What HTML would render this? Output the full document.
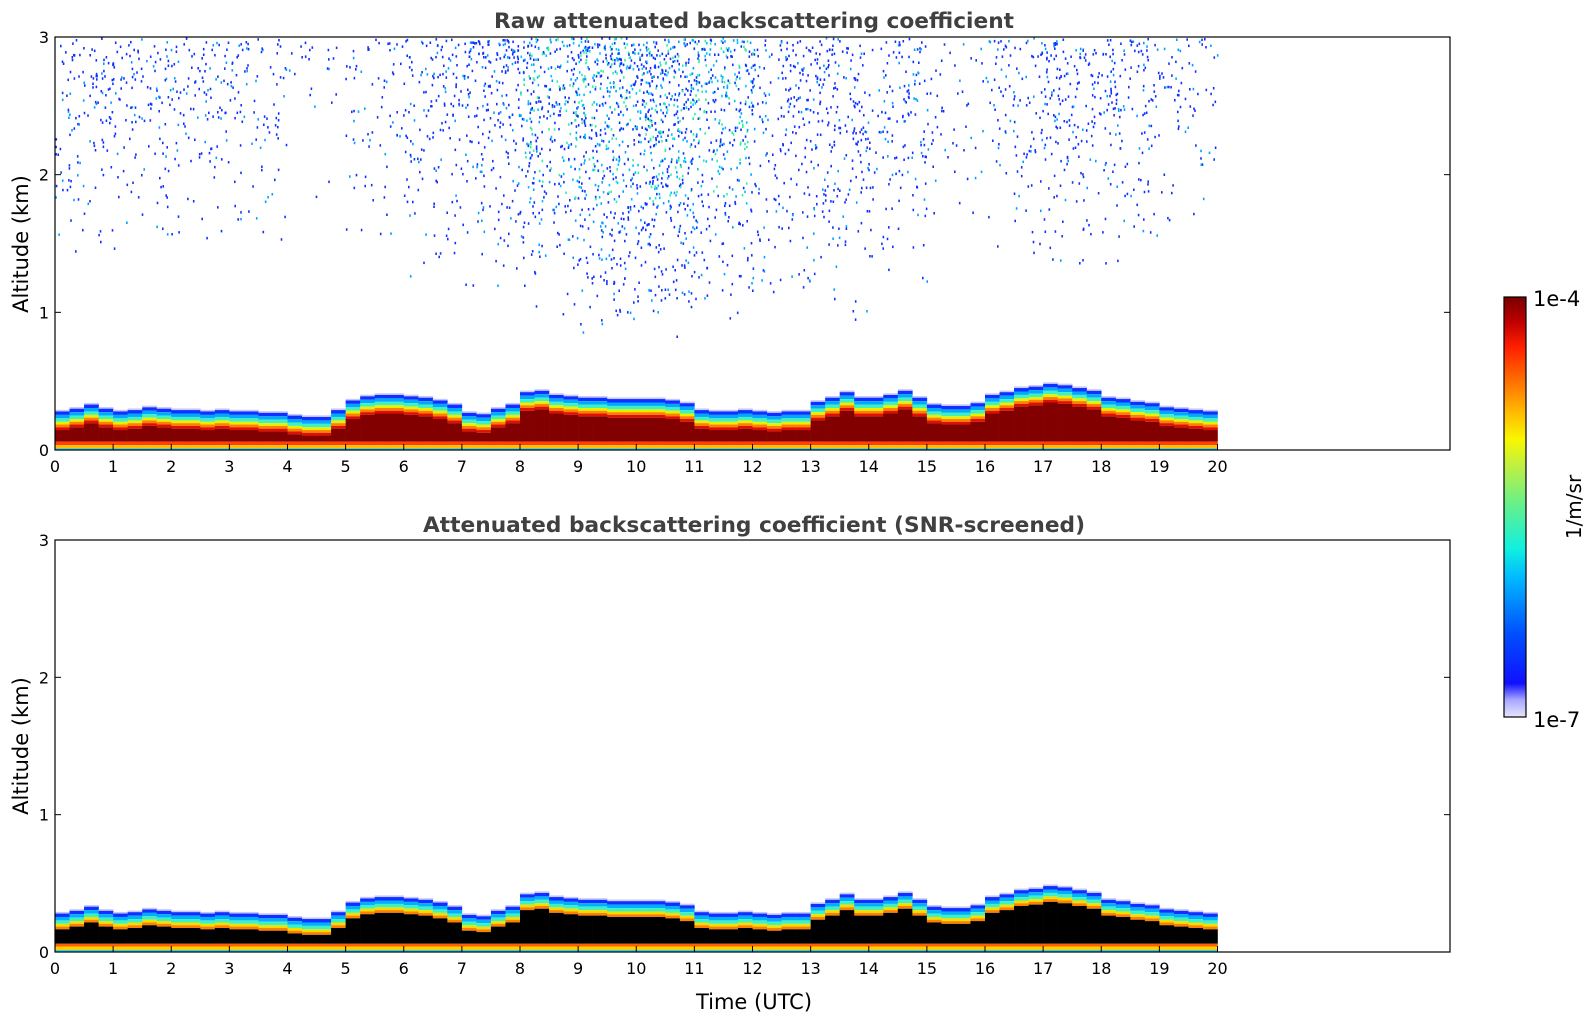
<!DOCTYPE html>
<html><head><meta charset="utf-8">
<style>
body{margin:0;background:#fff;width:1595px;height:1020px;overflow:hidden}
text{font-family:"DejaVu Sans","Liberation Sans",sans-serif}
</style></head>
<body>
<svg id="fig" width="1595" height="1020" xmlns="http://www.w3.org/2000/svg">
<defs>
<linearGradient id="cbgrad" x1="0" y1="1" x2="0" y2="0">
<stop offset="0" stop-color="#e6e6fa"/><stop offset="0.04" stop-color="#a8a8ff"/><stop offset="0.08" stop-color="#1010ff"/>
<stop offset="0.2" stop-color="#0050ff"/><stop offset="0.33" stop-color="#00b8ff"/><stop offset="0.4" stop-color="#10f0e0"/>
<stop offset="0.5" stop-color="#60f090"/><stop offset="0.6" stop-color="#c0f040"/><stop offset="0.66" stop-color="#f8f800"/>
<stop offset="0.72" stop-color="#ffc000"/><stop offset="0.8" stop-color="#ff7000"/><stop offset="0.88" stop-color="#ff2000"/>
<stop offset="0.94" stop-color="#c00000"/><stop offset="1" stop-color="#780000"/>
</linearGradient>
</defs>
<g id="p1"></g>
<g id="p2"></g>
<text x="754" y="28" text-anchor="middle" font-size="21" font-weight="bold" fill="#404040" textLength="520" lengthAdjust="spacingAndGlyphs">Raw attenuated backscattering coefficient</text>
<text x="754" y="532" text-anchor="middle" font-size="21" font-weight="bold" fill="#404040" textLength="662" lengthAdjust="spacingAndGlyphs">Attenuated backscattering coefficient (SNR-screened)</text>
<text x="754" y="1009" text-anchor="middle" font-size="21" fill="#000">Time (UTC)</text>
<text transform="translate(28,244) rotate(-90)" text-anchor="middle" font-size="21">Altitude (km)</text>
<text transform="translate(28,746) rotate(-90)" text-anchor="middle" font-size="21">Altitude (km)</text>
<g>
<rect x="1504" y="297" width="22" height="420" fill="url(#cbgrad)" stroke="#000" stroke-width="1.2"/>
<text x="1533" y="306" font-size="21">1e-4</text>
<text x="1533" y="727" font-size="21">1e-7</text>
<text transform="translate(1581,507) rotate(-90)" text-anchor="middle" font-size="20">1/m/sr</text>
</g>
</svg>
<script>
const hours=[0,1,2,3,4,5,6,7,8,9,10,11,12,13,14,15,16,17,18,19,20];
const altTicks=[0,1,2,3];
// boundary-layer top (km) every 0.25 h from 0 to 19.75
const blTop=[0.28,0.3,0.33,0.3,0.28,0.29,0.31,0.3,0.29,0.29,0.28,0.29,0.28,0.28,0.27,0.27,0.25,0.24,0.24,0.29,
0.36,0.39,0.4,0.4,0.39,0.38,0.36,0.33,0.27,0.26,0.3,0.33,0.42,0.43,0.4,0.39,0.38,0.38,0.37,0.37,
0.37,0.37,0.36,0.34,0.29,0.28,0.28,0.29,0.28,0.27,0.28,0.28,0.35,0.38,0.42,0.38,0.38,0.4,0.43,0.38,
0.33,0.32,0.32,0.34,0.4,0.42,0.45,0.46,0.48,0.47,0.45,0.43,0.38,0.37,0.35,0.34,0.31,0.3,0.29,0.28];
// speckle counts per hour in upper troposphere (raw panel)
const speckleCount=[130,120,110,90,25,70,150,220,330,460,500,330,190,210,150,50,110,170,150,70];
const speckleMinAlt=[1.3,1.4,1.4,1.4,1.8,1.4,1.2,1.1,0.9,0.8,0.8,0.9,1.0,0.9,1.1,1.5,1.4,1.2,1.3,1.6];

const X0=55,X1=1450,HMAX=24;
function xs(h){return X0+(X1-X0)*h/HMAX;}
const panels=[{g:'p1',top:37,bot:450,core:'#820000',raw:true},{g:'p2',top:540,bot:952,core:'#000000',raw:false}];
const NS='http://www.w3.org/2000/svg';
function mk(t,a,p){const e=document.createElementNS(NS,t);for(const k in a)e.setAttribute(k,a[k]);p.appendChild(e);return e;}
let seed=12345;function rnd(){seed=(seed*1103515245+12345)%2147483648;return seed/2147483648;}

panels.forEach((P,pi)=>{
  const g=document.getElementById(P.g);
  const ys=a=>P.bot-(P.bot-P.top)*a/3;
  const step=0.25;
  const cols=mk('g',{},g);
  
  
  blTop.forEach((h,i)=>{
    const x=xs(i*step),w=xs((i+1)*step)-x+0.3;
    let bands;
    if(P.raw) bands=[[h+0.012,h,'#c8c8ff'],[h,h-0.025,'#1030ff'],[h-0.025,h-0.05,'#00a8ff'],[h-0.05,h-0.075,'#40f0c0'],
      [h-0.075,h-0.095,'#e8f000'],[h-0.095,h-0.115,'#ff8000'],[h-0.115,h-0.135,'#e01000'],[h-0.135,0.06,P.core],
      [0.06,0.035,'#ff4000'],[0.035,0.012,'#ffc000'],[0.012,0,'#20c8f0']];
    else bands=[[h+0.012,h,'#c8c8ff'],[h,h-0.025,'#1030ff'],[h-0.025,h-0.05,'#00b0ff'],[h-0.05,h-0.075,'#40f0c0'],
      [h-0.075,h-0.095,'#f0e000'],[h-0.095,h-0.115,'#ff8000'],[h-0.115,0.06,P.core],
      [0.06,0.04,'#ff6000'],[0.04,0.015,'#ffd000'],[0.015,0,'#30d0e0']];
    bands.forEach(b=>{
      const y1=ys(b[0]),y2=ys(b[1]);
      if(y2>y1){const r=mk('rect',{x:x.toFixed(2),y:y1.toFixed(2),width:w.toFixed(2),height:(y2-y1).toFixed(2),fill:b[2]},cols);
      
      }
    });
  });
  if(P.raw){
    const sp=mk('g',{},g);
    
    
    speckleCount.forEach((n,hr)=>{
      for(let k=0;k<n;k++){
        const t=hr+rnd();const a=speckleMinAlt[hr]+(3-speckleMinAlt[hr])*Math.sqrt(rnd());
        const c=(hr>=8&&hr<=11&&a>1.8&&rnd()<0.35)?(rnd()<0.5?'#30f0a0':'#00c0ff'):(rnd()<0.8?'#1030ff':'#00a0ff');
        mk('rect',{x:xs(t).toFixed(1),y:ys(a).toFixed(1),width:1.6,height:2.5,fill:c},sp);
      }
    });
  }
  const fr=mk('rect',{x:X0,y:P.top,width:X1-X0,height:P.bot-P.top,fill:'none',stroke:'#000','stroke-width':1.2},g);
  
  
  hours.forEach(h=>{
    const x=xs(h);
    mk('line',{x1:x,y1:P.bot,x2:x,y2:P.bot-6,stroke:'#000','stroke-width':1},g);
    const t=mk('text',{x:x,y:P.bot+22,'text-anchor':'middle','font-size':16},g);
    t.textContent=h;
    
    
  });
  altTicks.forEach(a=>{
    const y=ys(a);
    mk('line',{x1:X0,y1:y,x2:X0+6,y2:y,stroke:'#000'},g);
    mk('line',{x1:X1,y1:y,x2:X1-6,y2:y,stroke:'#000'},g);
    const t=mk('text',{x:X0-6,y:y+6,'text-anchor':'end','font-size':16},g);
    t.textContent=a;
    
    
  });
});
</script>
</body></html>
